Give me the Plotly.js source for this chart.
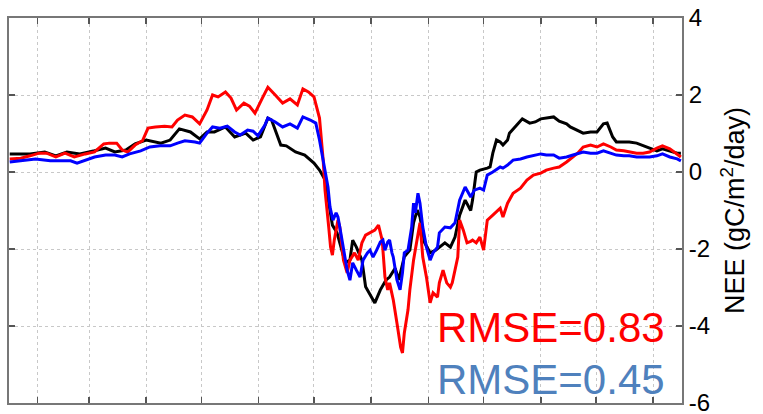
<!DOCTYPE html>
<html>
<head>
<meta charset="utf-8">
<script src="https://cdn.plot.ly/plotly-3.0.1.min.js"></script>
<style>html,body{margin:0;padding:0;background:#fff;}#chart{width:763px;height:414px;}</style>
</head>
<body>
<div id="chart"></div>
<script>
// Day of year and NEE (gC/m2/day)
const obsDay = [16,27,35,41,47,54,62,68,73,79,84,90,98,103,108,114,119,123,127,133,138,144,148,152,156,158,163,166,171,176,181,184,187,191,193.5,198,200.5,202,204,207,209,211,214,217,220,222,225,227,230,233,235,237,238.5,241,244,247,249,252,255,257.5,260,263,266,267,269,271,275,276.5,278,280,282,283.5,286,287,291,294,298,301,304,307,311,314,318,320,324,327,331,334.5,338,340,343,345,349,352,356,359,363,367,370,374,378,380];
const obsNEE = [0.47,0.47,0.52,0.42,0.52,0.47,0.55,0.62,0.52,0.57,0.73,0.83,0.75,0.83,1.12,1.04,0.86,1.04,1.04,1.17,0.91,1.01,0.83,0.91,1.40,1.35,0.70,0.68,0.52,0.44,0.23,0.05,-0.20,-1.38,-1.58,-2.36,-2.29,-1.77,-1.95,-2.29,-2.98,-3.14,-3.40,-3.06,-2.81,-2.73,-2.50,-2.80,-2.20,-2.03,-1.32,-0.99,-1.17,-1.84,-2.10,-2.03,-1.95,-1.84,-1.95,-1.69,-1.12,-0.73,-1.00,-0.73,0.00,0.05,0.10,0.13,0.49,0.83,0.78,0.70,0.83,1.01,1.22,1.38,1.27,1.30,1.38,1.40,1.43,1.32,1.25,1.17,1.09,1.01,1.04,1.04,1.25,1.27,0.91,0.78,0.78,0.78,0.75,0.70,0.62,0.55,0.60,0.55,0.49,0.49];

const mod1Day = [16,22,27,32,36,41,46,51,57,62,67,70,74,77,80,84,88,91,95,100,104,107,111,115,119,123,126,129,133,136,139,143,146,149,153,156,160,164,168,172,175,178,181,183,184,186,187,189,190,191,192,194,195,197,199,200.5,203,205,207,209,211,214,216,218,219.5,221,222,224,226,228,229,230,232,233,235,237,238.5,240,242,244,245.6,248,249,251,253,255,256,259,260,262,264,266,267,269,271,273,275,278,282,283.5,286,289,293,296.5,300,304,307,311,314,318,321.5,324,327,331,334.5,338,342,345,349,352,356,359.5,363,367,370,374,378,380];
const mod1NEE = [0.34,0.36,0.42,0.49,0.49,0.39,0.49,0.39,0.47,0.52,0.73,0.75,0.75,0.57,0.52,0.70,0.81,1.14,1.17,1.19,1.17,1.35,1.48,1.43,1.25,1.61,2.00,1.95,2.08,1.92,1.61,1.79,1.71,1.53,1.92,2.20,2.00,1.79,1.90,1.74,2.16,2.08,1.95,1.61,1.40,0.30,-0.47,-1.43,-1.95,-2.16,-1.77,-1.25,-1.43,-2.29,-2.62,-2.29,-2.10,-2.29,-1.84,-1.64,-1.58,-1.51,-1.38,-1.77,-2.73,-3.06,-2.88,-3.32,-3.92,-4.55,-4.70,-4.18,-3.58,-3.06,-2.29,-1.69,-1.32,-2.21,-2.73,-3.40,-3.14,-3.25,-2.88,-2.55,-2.88,-2.99,-2.88,-2.21,-1.25,-1.51,-1.84,-1.80,-1.77,-1.84,-1.69,-2.03,-1.25,-1.12,-0.94,-1.17,-0.81,-0.55,-0.42,-0.21,-0.08,-0.03,0.05,0.10,0.13,0.26,0.39,0.49,0.65,0.70,0.65,0.73,0.65,0.57,0.55,0.52,0.49,0.49,0.52,0.62,0.68,0.60,0.47,0.39];

const mod2Day = [16,22,30,38,43,49,52.5,57,62,68,73,77,81,87,92,97.5,103,107,111,116.5,119,123,126,130,134,138,141,145,148,150.6,154.4,156,160,164,168,172,175,179,182,184,185.5,187,188.6,189.7,191.3,193,194,195,197,199,200.5,202,204,206,207.6,210,211.4,213,215,217,218.4,219.5,221,222,223.3,224,226,227.7,229,230,232,234,235,236,237.4,238.5,240,242,244,245.6,248,249,252,255,257.5,260,263,266,268,271,273,275,278,282,283.5,286,289,293,296.5,300,304,307,311,314,318,321.5,324,327,331,334.5,338,342,345,349,352,356,359.5,363,367,370,374,378,380];
const mod2NEE = [0.26,0.29,0.34,0.29,0.29,0.29,0.23,0.31,0.39,0.44,0.44,0.39,0.47,0.55,0.65,0.68,0.68,0.75,0.81,0.78,0.75,1.01,1.17,1.14,1.19,1.04,0.96,1.09,1.06,0.94,1.22,1.40,1.30,1.17,1.25,1.14,1.43,1.35,1.27,0.83,0.40,0.05,-0.39,-0.91,-1.25,-1.06,-1.17,-1.43,-2.03,-2.55,-2.81,-2.36,-2.55,-2.73,-2.29,-2.10,-2.03,-2.21,-2.03,-1.82,-1.77,-2.03,-1.82,-1.77,-2.10,-2.21,-2.80,-3.06,-2.62,-2.10,-2.03,-1.43,-0.81,-1.06,-0.55,-0.81,-1.43,-1.95,-2.29,-2.10,-1.95,-1.58,-1.43,-1.45,-1.32,-0.73,-0.39,-0.65,-0.47,-0.42,-0.47,-0.08,0.00,0.13,0.10,0.18,0.31,0.34,0.39,0.42,0.47,0.44,0.44,0.36,0.39,0.44,0.47,0.52,0.49,0.49,0.55,0.49,0.44,0.42,0.42,0.39,0.39,0.39,0.42,0.47,0.39,0.34,0.29];

const monthTicks = [31,59,90,120,151,181,212,243,273,304,334,365];
const yTicks = [-6,-4,-2,0,2,4];
const rmseLabels = ["RMSE=0.83","RMSE=0.45"];

const font = "Liberation Sans, Arial, sans-serif";
const traces = [
  {x: obsDay, y: obsNEE, mode: "lines", line: {color: "#000000", width: 3}, hoverinfo: "skip"},
  {x: mod1Day, y: mod1NEE, mode: "lines", line: {color: "#ff0000", width: 3}, hoverinfo: "skip"},
  {x: mod2Day, y: mod2NEE, mode: "lines", line: {color: "#0000ff", width: 3}, hoverinfo: "skip"}
];

const layout = {
  width: 763, height: 414,
  margin: {l: 9, r: 81, t: 18, b: 11},
  paper_bgcolor: "#ffffff", plot_bgcolor: "#ffffff",
  showlegend: false,
  font: {family: font, color: "#000"},
  xaxis: {
    range: [15.6, 380.6], tickvals: monthTicks, showticklabels: false,
    ticks: "inside", ticklen: 6, tickwidth: 1.5, tickcolor: "#555",
    showline: true, linecolor: "#777", linewidth: 2, mirror: "ticks",
    showgrid: true, gridcolor: "#c8c8c8", griddash: "dot", gridwidth: 1,
    zeroline: false, fixedrange: true
  },
  yaxis: {
    side: "right", range: [-6, 4], tickvals: yTicks, ticktext: yTicks.map(String),
    ticks: "inside", ticklen: 6, tickwidth: 1.5, tickcolor: "#555",
    showline: true, linecolor: "#777", linewidth: 2, mirror: "ticks",
    showgrid: true, gridcolor: "#c8c8c8", griddash: "dot", gridwidth: 1,
    zeroline: false, automargin: false, ticklabeloverflow: "allow",
    tickfont: {size: 24, family: font, color: "#000"},
    title: {text: "NEE (gC/m<sup>2</sup>/day)", font: {size: 27, family: font, color: "#000"}, standoff: 16},
    fixedrange: true
  },
  annotations: [
    {xref: "paper", yref: "paper", x: 0.978, y: 0.195, xanchor: "right", yanchor: "middle",
     text: rmseLabels[0], showarrow: false, font: {size: 42, family: font, color: "#ff0000"}},
    {xref: "paper", yref: "paper", x: 0.978, y: 0.062, xanchor: "right", yanchor: "middle",
     text: rmseLabels[1], showarrow: false, font: {size: 42, family: font, color: "#4f81bd"}}
  ]
};

Plotly.newPlot("chart", traces, layout, {displayModeBar: false, staticPlot: true});
</script>
</body>
</html>
